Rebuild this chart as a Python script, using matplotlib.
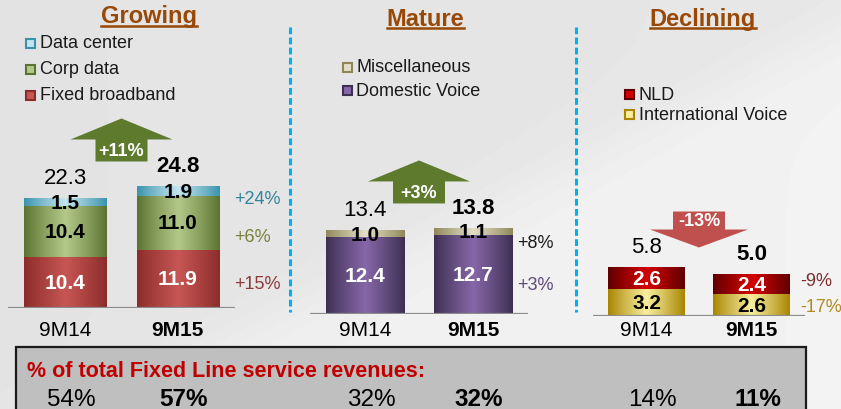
import numpy as np
import matplotlib
matplotlib.use('Agg')
import matplotlib.pyplot as plt
from matplotlib.colors import to_rgb
from matplotlib.patches import Polygon, Rectangle
from matplotlib.transforms import blended_transform_factory

plt.rcParams['font.family'] = ['Liberation Sans', 'DejaVu Sans']
NARROW = ['Liberation Sans Narrow', 'Liberation Sans', 'DejaVu Sans']

W, H = 841, 410  # px at dpi 100

PERIODS = ['9M14', '9M15']

# Growing
GROW_SERIES = ['Fixed broadband', 'Corp data', 'Data center']
GROW_FIXED_BB = [10.4, 11.9]
GROW_CORP_DATA = [10.4, 11.0]
GROW_DATA_CENTER = [1.5, 1.9]
GROW_TOTALS = [22.3, 24.8]
GROW_CHANGES = ['+15%', '+6%', '+24%']
GROW_TOTAL_CHANGE = '+11%'
GROW_SHARE = ['54%', '57%']

# Mature
MATURE_SERIES = ['Domestic Voice', 'Miscellaneous']
MATURE_DOMESTIC = [12.4, 12.7]
MATURE_MISC = [1.0, 1.1]
MATURE_TOTALS = [13.4, 13.8]
MATURE_CHANGES = ['+3%', '+8%']
MATURE_TOTAL_CHANGE = '+3%'
MATURE_SHARE = ['32%', '32%']

# Declining
DECL_SERIES = ['International Voice', 'NLD']
DECL_INTL = [3.2, 2.6]
DECL_NLD = [2.6, 2.4]
DECL_TOTALS = [5.8, 5.0]
DECL_CHANGES = ['-17%', '-9%']
DECL_TOTAL_CHANGE = '-13%'
DECL_SHARE = ['14%', '11%']

SHARE_TITLE = '% of total Fixed Line service revenues:'

TITLE_COLOR = '#984807'
BAR_WIDTH = 0.73

PANELS = [
    dict(title='Growing', title_pos=(149, 23.5),
         series=GROW_SERIES, values=[GROW_FIXED_BB, GROW_CORP_DATA, GROW_DATA_CENTER],
         totals=GROW_TOTALS, changes=GROW_CHANGES, total_change=GROW_TOTAL_CHANGE, share=GROW_SHARE,
         shades=[('#8b2c2a', '#c65653'), ('#5b7330', '#b3c98a'), ('#3a93ad', '#c4e6ef')],
         text_colors=['white', 'black', 'black'],
         change_colors=['#8b3a3a', '#78803c', '#31859c'],
         frame=(8, 235, 309, 4.9), change_dx=15, change_dy=[-5, -14, -7],
         legend=(30, 40, [44, 70, 96]), arrow='up', arrow_color='#5d7a2d'),
    dict(title='Mature', title_pos=(425.5, 26),
         series=MATURE_SERIES, values=[MATURE_DOMESTIC, MATURE_MISC],
         totals=MATURE_TOTALS, changes=MATURE_CHANGES, total_change=MATURE_TOTAL_CHANGE, share=MATURE_SHARE,
         shades=[('#3d2f52', '#8667a8'), ('#8f875a', '#e2dec4')],
         text_colors=['white', 'black'],
         change_colors=['#5f497a', '#1a1a1a'],
         frame=(310, 528, 315, 6.2), change_dx=5, change_dy=[-10, -11],
         legend=(347, 356, [68, 91]), arrow='up', arrow_color='#5d7a2d'),
    dict(title='Declining', title_pos=(703, 26),
         series=DECL_SERIES, values=[DECL_INTL, DECL_NLD],
         totals=DECL_TOTALS, changes=DECL_CHANGES, total_change=DECL_TOTAL_CHANGE, share=DECL_SHARE,
         shades=[('#a88400', '#f8ee9e'), ('#5e0000', '#d40000')],
         text_colors=['black', 'white'],
         change_colors=['#b08c1e', '#7b2e2e'],
         frame=(593, 805, 317, 8.3), change_dx=10, change_dy=[-1, 4],
         legend=(630, 639, [95, 115]), arrow='down', arrow_color='#c0504d'),
]


def shade_bars(ax, bars, edge, center):
    """Cylinder-like horizontal gradient over each bar."""
    e, c = np.array(to_rgb(edge)), np.array(to_rgb(center))
    t = np.linspace(-1, 1, 80)
    img = e + (c - e) * (1 - np.abs(t))[:, None] ** 0.9
    for b in bars:
        x, y = b.get_x(), b.get_y()
        ax.imshow(img[None], extent=(x, x + b.get_width(), y, y + b.get_height()),
                  aspect='auto', interpolation='bilinear', zorder=2)


def draw_background(bg):
    yy, xx = np.mgrid[0:H, 0:W]
    y_line = 167 + 0.505 * (570 - xx)
    step = 1 / (1 + np.exp(-(yy - y_line) / 18))
    v = 0.893 + 0.045 * step + 0.012 * (xx / W)
    bg.imshow(v, cmap='gray', vmin=0, vmax=1, extent=(0, W, H, 0), zorder=0)

    for x in (290, 576):
        bg.plot([x, x], [28, 313], color='#00b0f0', lw=2.2, ls=(0, (2.2, 1.1)), zorder=1)

    bg.add_patch(Rectangle((16, 348), 790, 80, facecolor='#bfbfbf', edgecolor='#1a1a1a',
                           lw=1.6, zorder=1))
    bg.text(27, 372, SHARE_TITLE, color='#c00000', fontsize=15.5, weight='bold',
            family=NARROW, ha='left', va='center', zorder=2)


def draw_arrow(bg, px, py, kind, color, label):
    sw = 26
    if kind == 'up':
        a, b, c, hw = 25, 47, 68, 51
        pts = [(-sw, a), (sw, a), (sw, b), (hw, b), (0, c), (-hw, b), (-sw, b)]
        ty = (a + b) / 2
    else:
        a, b, c, hw = 27, 45, 63, 49
        pts = [(-sw, c), (sw, c), (sw, b), (hw, b), (0, a), (-hw, b), (-sw, b)]
        ty = (b + c) / 2
    bg.add_patch(Polygon([(px + dx, py - dy) for dx, dy in pts], closed=True,
                         facecolor=color, edgecolor='none', zorder=2))
    bg.text(px, py - ty, label, color='white', fontsize=13, weight='bold',
            ha='center', va='center', zorder=3)


def draw_panel(fig, bg, p):
    left, right, base, scale = p['frame']
    ax = fig.add_axes([left / W, (H - base) / H, (right - left) / W, base / H])
    ax.patch.set_alpha(0)
    ax.axis('off')

    x = np.arange(len(PERIODS))
    bottom = np.zeros(len(PERIODS))
    to_fig = blended_transform_factory(ax.transData, fig.transFigure)

    for k, vals in enumerate(p['values']):
        vals = np.array(vals)
        bars = ax.bar(x, vals, BAR_WIDTH, bottom=bottom, color=p['shades'][k][1],
                      edgecolor='none', zorder=1)
        shade_bars(ax, bars, *p['shades'][k])
        for i in x:
            ax.text(i, bottom[i] + vals[i] / 2, f'{vals[i]:.1f}', ha='center', va='center',
                    color=p['text_colors'][k], fontsize=15, weight='bold', zorder=5)
        ax.annotate(p['changes'][k], xy=(x[-1] + BAR_WIDTH / 2, bottom[-1] + vals[-1] / 2),
                    xytext=(p['change_dx'], p['change_dy'][k]), textcoords='offset pixels',
                    ha='left', va='center', fontsize=13, color=p['change_colors'][k])
        bottom = bottom + vals

    for i in x:
        wt = 'bold' if i == x[-1] else 'normal'
        ax.annotate(f'{p["totals"][i]:.1f}', xy=(i, p['totals'][i]), xytext=(0, 21),
                    textcoords='offset pixels', ha='center', va='center', fontsize=16, weight=wt)
        ax.text(i, 1 - 331 / H, PERIODS[i], transform=to_fig, ha='center', va='center',
                fontsize=15, weight=wt)
        ax.annotate(p['share'][i], xy=(i, 1 - 400 / H), xycoords=to_fig, xytext=(6, 0),
                    textcoords='offset pixels', ha='center', va='center',
                    fontsize=17.5, weight=wt, family=NARROW)

    ax.axhline(0, color='#8c8c8c', lw=1.6, zorder=3)
    ax.set_xlim(-0.51, 1.51)
    ax.set_ylim(0, base / scale)

    # change arrow between the bars, anchored on the latest total
    dx, dy = ax.transData.transform((0.5, p['totals'][-1]))
    draw_arrow(bg, dx, H - dy, p['arrow'], p['arrow_color'], p['total_change'])

    # legend, top entry = top segment
    mx, tx, ys = p['legend']
    for name, (edge, center), y in zip(p['series'][::-1], p['shades'][::-1], ys):
        bg.add_patch(Rectangle((mx - 4.5, y - 4.5), 9, 9, facecolor=center,
                               edgecolor=edge, lw=1.5, zorder=2))
        bg.text(tx, y, name, fontsize=13, ha='left', va='center', color='#1a1a1a', zorder=2)

    # underlined title
    t = bg.text(*p['title_pos'], p['title'], color=TITLE_COLOR, fontsize=17, weight='bold',
                ha='center', va='baseline', zorder=2)
    return t


def main():
    fig = plt.figure(figsize=(W / 100, H / 100), dpi=100)
    bg = fig.add_axes([0, 0, 1, 1])
    bg.set_xlim(0, W)
    bg.set_ylim(H, 0)
    bg.axis('off')
    draw_background(bg)

    titles = [draw_panel(fig, bg, p) for p in PANELS]

    fig.canvas.draw()
    for t in titles:
        bb = t.get_window_extent()
        uy = t.get_position()[1] + 3
        bg.plot([bb.x0, bb.x1], [uy, uy], color=TITLE_COLOR, lw=1.8, zorder=2)
    bg.set_xlim(0, W)
    bg.set_ylim(H, 0)

    fig.savefig('out.png', dpi=100)


if __name__ == '__main__':
    main()
